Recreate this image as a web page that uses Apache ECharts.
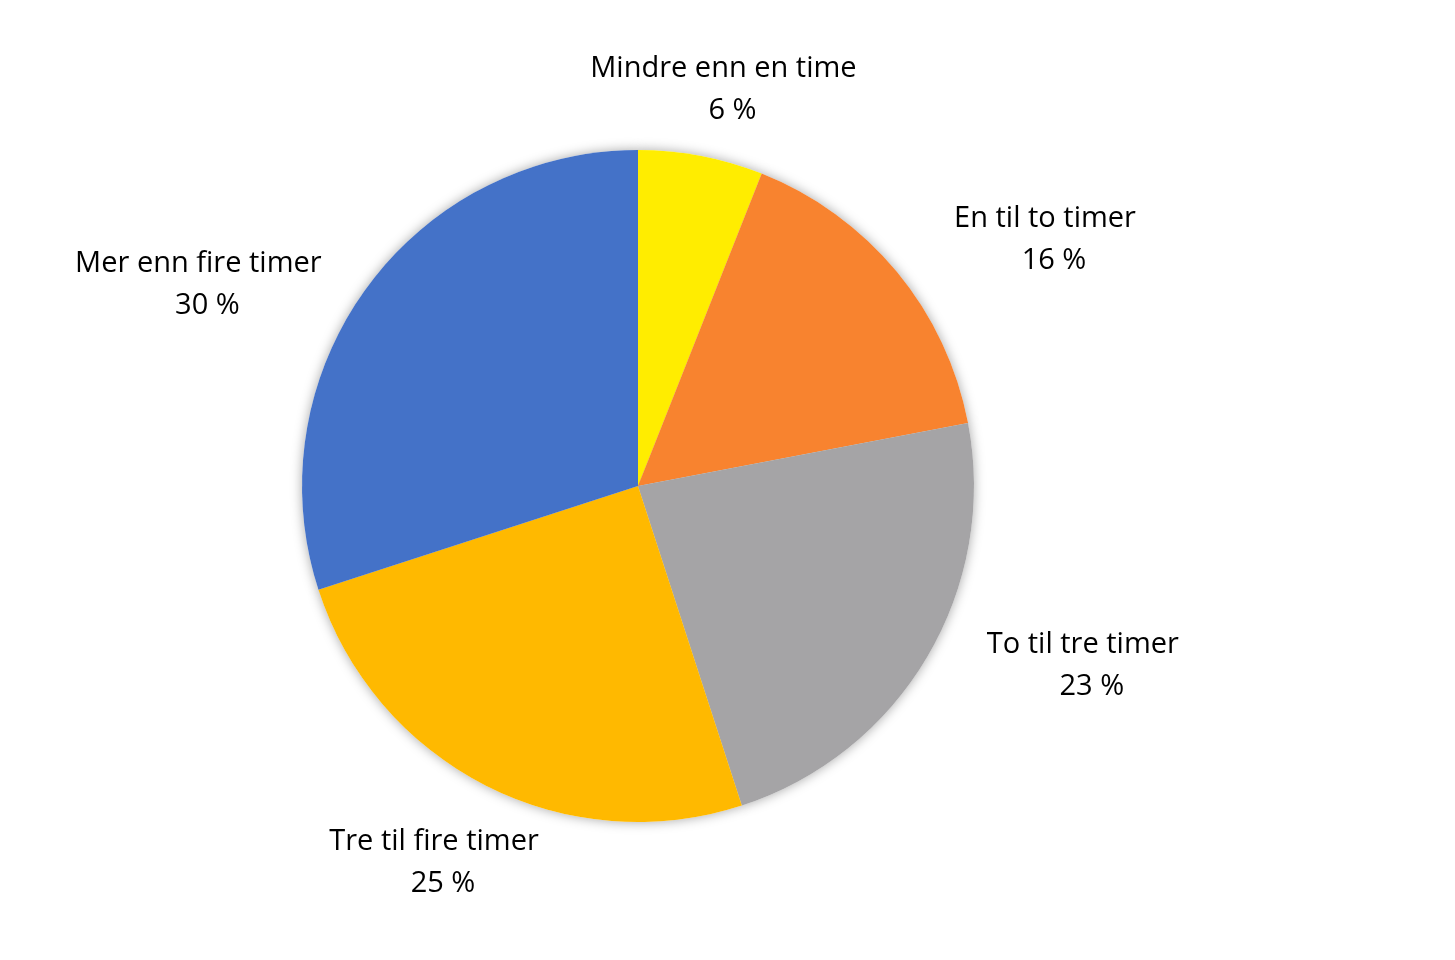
<!DOCTYPE html>
<html>
<head>
<meta charset="utf-8">
<script src="https://cdn.jsdelivr.net/npm/echarts@6/dist/echarts.min.js"></script>
<style>
html,body{margin:0;padding:0;background:#fff;}
#chart{width:1455px;height:960px;}
</style>
</head>
<body>
<div id="chart"></div>
<script>
var categories = ['Mindre enn en time', 'En til to timer', 'To til tre timer', 'Tre til fire timer', 'Mer enn fire timer'];
var values = [6, 16, 23, 25, 30];
var colors = ['#FFED00', '#F8832F', '#A5A4A6', '#FFB900', '#4472C8'];
// label placement tuning (radial length, horizontal length)
var labelLen = [71, 56, 10, 83, 13];
var labelLen2 = [-129, 9, 46, -96, 29];

var FONT = '"Open Sans", "DejaVu Sans", sans-serif';

var frontData = categories.map(function (c, i) {
  return {
    name: c,
    value: values[i],
    itemStyle: { color: colors[i] },
    labelLine: { show: false, length: labelLen[i], length2: labelLen2[i] }
  };
});
var backData = categories.map(function (c, i) {
  return { name: c, value: values[i] };
});

var chart = echarts.init(document.getElementById('chart'));
chart.setOption({
  backgroundColor: '#ffffff',
  animation: false,
  series: [
    {
      type: 'pie',
      silent: true,
      center: [638, 486],
      radius: 336,
      startAngle: 90,
      clockwise: true,
      data: backData,
      label: { show: false },
      labelLine: { show: false },
      itemStyle: {
        color: '#ffffff',
        borderWidth: 0,
        shadowBlur: 12,
        shadowColor: 'rgba(0,0,0,0.35)'
      }
    },
    {
      type: 'pie',
      center: [638, 486],
      radius: 336,
      startAngle: 90,
      clockwise: true,
      avoidLabelOverlap: false,
      data: frontData,
      itemStyle: { borderWidth: 0 },
      label: {
        show: true,
        position: 'outside',
        distanceToLabelLine: 5,
        padding: [7, 0, 0, 0],
        formatter: function (p) {
          return '{n|' + p.name + '}\n{p|' + p.value + ' %}';
        },
        rich: {
          n: {
            align: 'center',
            fontSize: 29,
            lineHeight: 42,
            fontFamily: FONT,
            color: '#000000'
          },
          p: {
            align: 'center',
            fontSize: 29,
            lineHeight: 42,
            padding: [0, 0, 0, 18],
            fontFamily: FONT,
            color: '#000000'
          }
        }
      },
      emphasis: { disabled: true }
    }
  ]
});
</script>
</body>
</html>
